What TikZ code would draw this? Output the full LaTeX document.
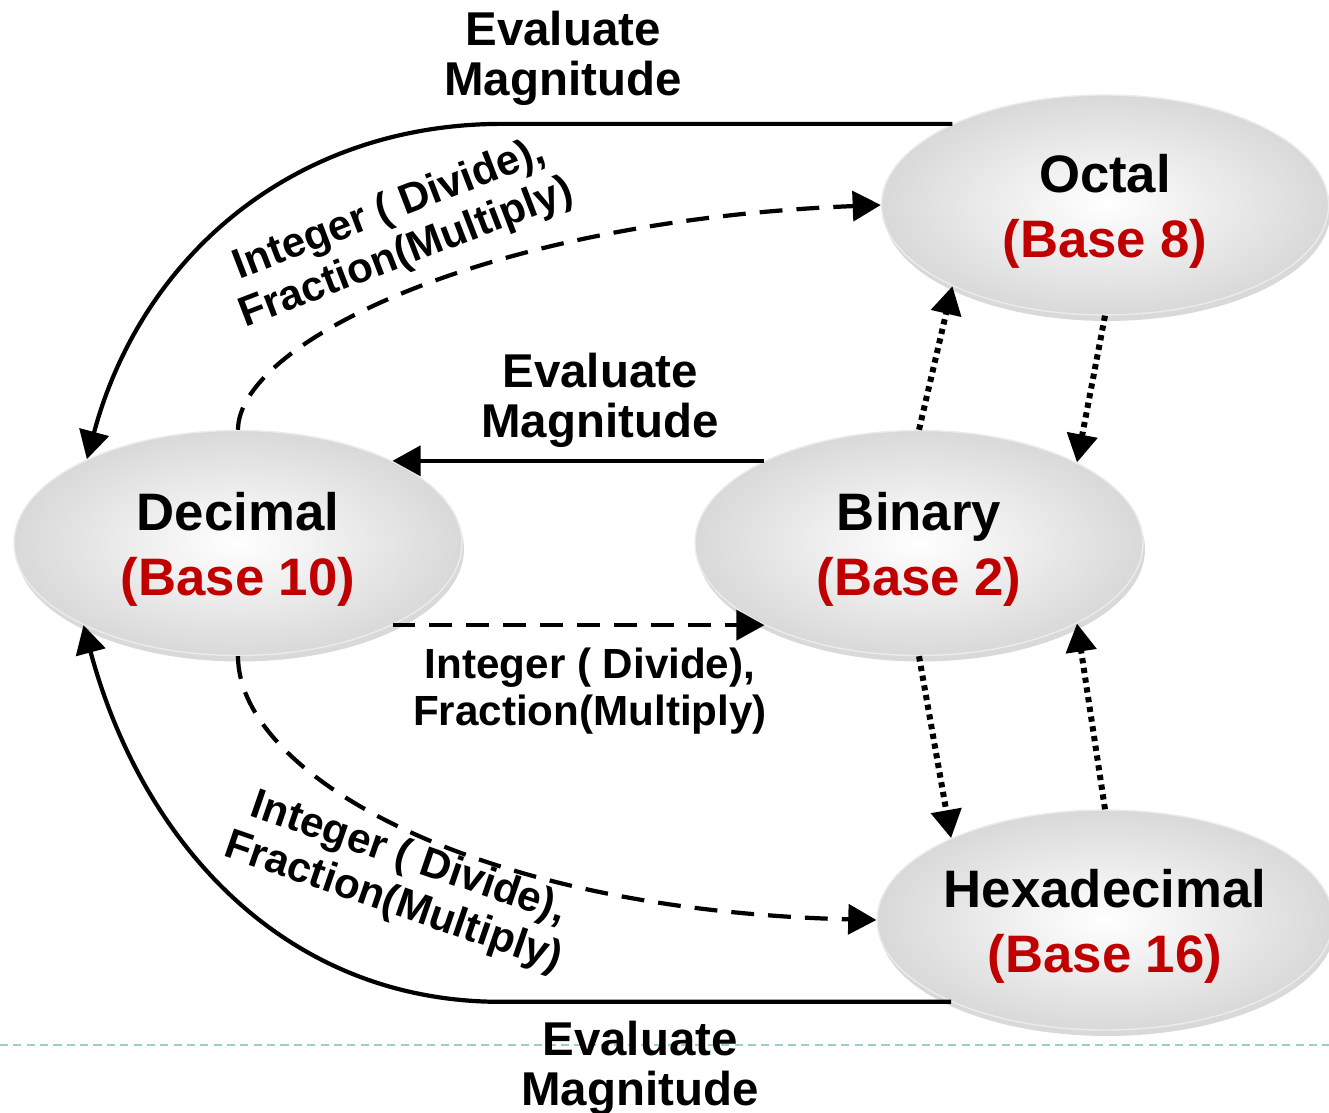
\documentclass[tikz,border=0pt]{standalone}
\usepackage{fontspec}
\setmainfont{Liberation Sans}
\usetikzlibrary{arrows.meta,shapes.geometric,shadows}
\definecolor{baseRed}{HTML}{C00000}
\definecolor{rulecolor}{HTML}{9ACFCD}
\tikzset{>={Triangle[length=8pt,width=8.5pt]},
  every node/.style={font=\bfseries},
  numsys/.style={ellipse,minimum width=4.48cm,minimum height=2.25cm,inner sep=0pt,align=center,
    shade,inner color=white,outer color=black!15,draw=black!8,line width=.4pt,
    drop shadow={shadow xshift=.02cm,shadow yshift=-.06cm,opacity=.3},
    text height=33pt,font=\fontsize{15}{18.5}\selectfont\bfseries},
  solidarrow/.style={->,line width=1.2pt},
  dasharrow/.style={->,line width=1.2pt,dash pattern=on 6.5pt off 4pt},
  dotarrow/.style={->,line width=1.7pt,dash pattern=on 1.5pt off 1.3pt},
  evallabel/.style={align=center,font=\fontsize{13.5}{14.3}\selectfont\bfseries},
  convlabel/.style={align=center,font=\fontsize{12}{13.4}\selectfont\bfseries}}

\begin{document}
\begin{tikzpicture}[x=1cm,y=1cm]
\useasboundingbox (0,0) rectangle (13.29,11.12);
% separator rule under the figure
\draw[rulecolor,line width=.6pt,dash pattern=on 2.3pt off 1.5pt] (0,.67)--(13.29,.67);
\node[numsys] (dec) at (2.38,5.69) {Decimal\\\textcolor{baseRed}{(Base 10)}};
\node[numsys] (bin) at (9.19,5.69) {Binary\\\textcolor{baseRed}{(Base 2)}};
\node[numsys,minimum width=4.47cm,minimum height=2.2cm] (oct) at (11.05,9.07) {Octal\\\textcolor{baseRed}{(Base 8)}};
\node[numsys,minimum width=4.47cm,minimum height=2.2cm] (hex) at (11.05,1.92) {Hexadecimal\\\textcolor{baseRed}{(Base 16)}};
% evaluate magnitude: everything back to decimal
\draw[solidarrow] (oct.152) -- ++(-4.5,0) to[out=180,in=75] (dec.151);
\draw[solidarrow] (hex.208) -- ++(-4.5,0) to[out=180,in=-75] (dec.208);
\draw[solidarrow] (bin.152) -- (dec.28);
% divide / multiply: decimal to the other bases
\draw[dasharrow] (dec.north) .. controls +(0,.85) and +(-4.0,-.16) .. (oct.west);
\draw[dasharrow] (dec.south) .. controls +(0,-1.15) and +(-4.1,.1) .. (hex.west);
\draw[dasharrow] (dec.332) -- (bin.208);
% grouping of bits between binary, octal and hex
\draw[dotarrow] (bin.north) -- (oct.208);
\draw[dotarrow] (oct.south) -- (bin.27);
\draw[dotarrow] (bin.south) -- (hex.152);
\draw[dotarrow] (hex.north) -- (bin.333);
\node[evallabel] (evaltop) at (5.63,10.54) {Evaluate\\Magnitude};
\node[evallabel] (evalmid) at (6.00,7.12) {Evaluate\\Magnitude};
\node[evallabel] (evalbot) at (6.40,0.44) {Evaluate\\Magnitude};
\node[convlabel] (convmid) at (5.90,4.21) {Integer ( Divide),\\Fraction(Multiply)};
\node[convlabel,rotate=21] (convtop) at (3.98,8.80) {Integer ( Divide),\\Fraction(Multiply)};
\node[convlabel,rotate=-19] (convbot) at (4.01,2.31) {Integer ( Divide),\\Fraction(Multiply)};
\end{tikzpicture}
\end{document}
